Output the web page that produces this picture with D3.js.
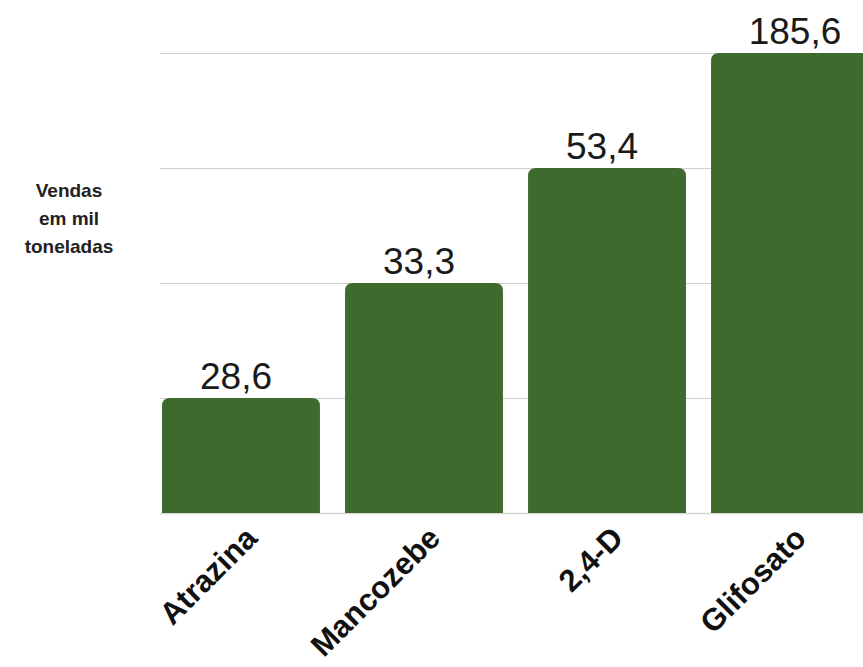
<!DOCTYPE html>
<html>
<head>
<meta charset="utf-8">
<script src="https://cdn.jsdelivr.net/npm/d3@7"></script>
<style>
  html, body { margin: 0; padding: 0; background: #ffffff; }
  svg { display: block; }
</style>
</head>
<body>
<svg id="chart" width="863" height="667"></svg>
<script>
const categories = ["Atrazina", "Mancozebe", "2,4-D", "Glifosato"];
const values = [28.6, 33.3, 53.4, 185.6];
const valueLabels = ["28,6", "33,3", "53,4", "185,6"];
const axisTitle = ["Vendas", "em mil", "toneladas"];

const svg = d3.select("#chart");
const W = 863, H = 667;
const baseY = 513;

// The original chart spaces the bars evenly rather than proportionally: a piecewise scale reproduces it.
const y = d3.scaleLinear()
  .domain([0].concat(values))
  .range([baseY, 398, 283, 168, 53]);

const x = d3.scaleBand()
  .domain(categories)
  .range([149.5, 881.5])
  .paddingInner(0.137)
  .paddingOuter(0.0685);

// gridlines
const grid = svg.append("g").attr("transform", "translate(160,0)")
  .call(d3.axisLeft(y).tickValues(values).tickSize(-(W - 160)).tickFormat(""));
grid.select(".domain").remove();
grid.selectAll(".tick line").attr("stroke", "#cfcfcf").attr("stroke-width", 1.2);

svg.append("line")
  .attr("x1", 160).attr("x2", W)
  .attr("y1", baseY + 0.5).attr("y2", baseY + 0.5)
  .attr("stroke", "#d8d8d8").attr("stroke-width", 1.5);

const r = 8;
function barPath(x0, w, yTop, yBot) {
  return `M${x0},${yBot} L${x0},${yTop + r} Q${x0},${yTop} ${x0 + r},${yTop} ` +
         `L${x0 + w - r},${yTop} Q${x0 + w},${yTop} ${x0 + w},${yTop + r} L${x0 + w},${yBot} Z`;
}

svg.append("g").selectAll("path")
  .data(values)
  .join("path")
  .attr("d", (d, i) => barPath(x(categories[i]), x.bandwidth(), y(d), y(0)))
  .attr("fill", "#3e6a2e");

svg.append("g").selectAll("text")
  .data(values)
  .join("text")
  .attr("x", (d, i) => x(categories[i]) + x.bandwidth() / 2 - 5 + (i === values.length - 1 ? 10 : 0))
  .attr("y", d => y(d) - 9)
  .attr("text-anchor", "middle")
  .attr("font-family", "Liberation Sans, Arial, sans-serif")
  .attr("font-size", 37)
  .attr("fill", "#1a1a1a")
  .text((d, i) => valueLabels[i]);

svg.append("g").selectAll("text")
  .data(categories)
  .join("text")
  .attr("transform", d => `translate(${x(d) + x.bandwidth() / 2 + 18},540) rotate(-45)`)
  .attr("text-anchor", "end")
  .attr("font-family", "Liberation Sans, Arial, sans-serif")
  .attr("font-weight", "bold")
  .attr("font-size", 31)
  .attr("fill", "#111")
  .text(d => d);

svg.append("text")
  .attr("text-anchor", "middle")
  .attr("font-family", "Liberation Sans, Arial, sans-serif")
  .attr("font-weight", "bold")
  .attr("font-size", 19)
  .attr("fill", "#222")
  .selectAll("tspan")
  .data(axisTitle)
  .join("tspan")
  .attr("x", 69)
  .attr("y", (d, i) => 197 + i * 28)
  .text(d => d);
</script>
</body>
</html>
